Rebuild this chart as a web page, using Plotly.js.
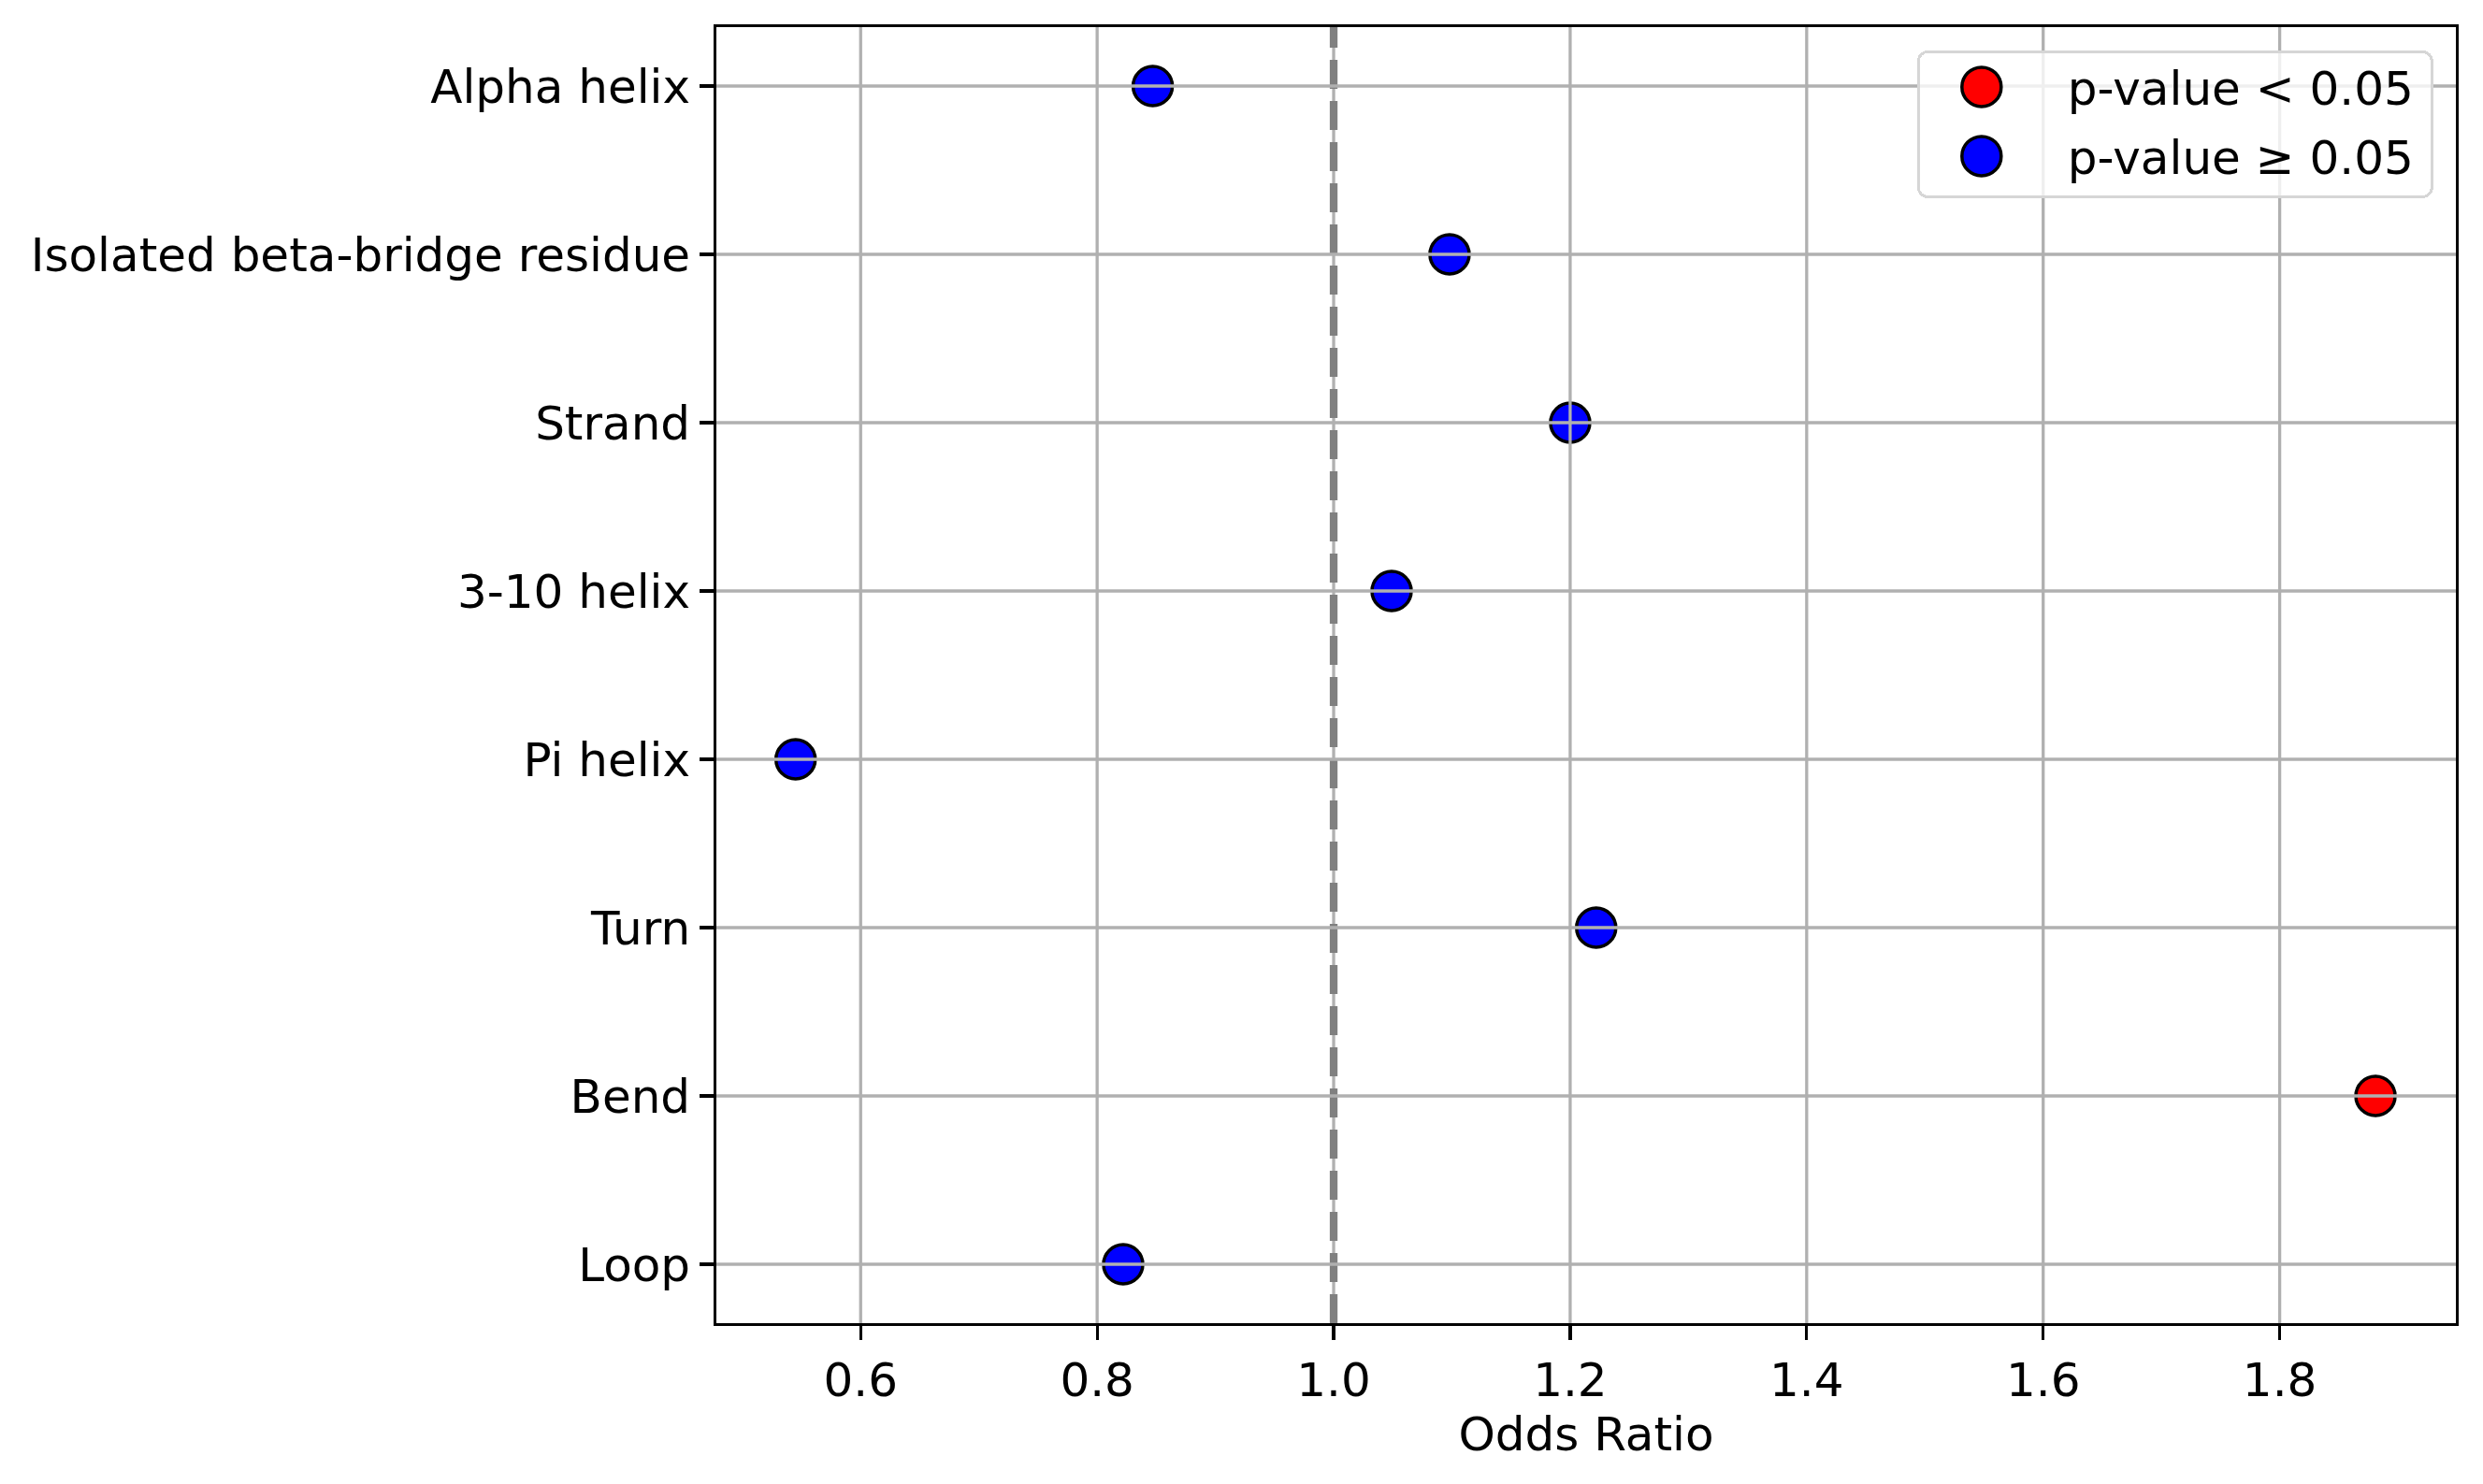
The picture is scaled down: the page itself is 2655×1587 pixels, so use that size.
<!DOCTYPE html>
<html>
<head>
<meta charset="utf-8">
<script src="https://cdn.plot.ly/plotly-3.0.1.min.js"></script>
<style>
  body { margin: 0; background: #fff; }
  #chart { width: 2655px; height: 1587px; }
</style>
</head>
<body>
<div id="chart"></div>
<script>
// categories, top to bottom
const categories = [
	"Alpha helix",
	"Isolated beta-bridge residue",
	"Strand",
	"3-10 helix",
	"Pi helix",
	"Turn",
	"Bend",
	"Loop",
];
const oddsRatios = [0.847, 1.098, 1.200, 1.049, 0.545, 1.222, 1.881, 0.822];
const significant = [false, false, false, false, false, false, true, false];
const xTicks = [0.6, 0.8, 1.0, 1.2, 1.4, 1.6, 1.8];
const xTickLabels = ["0.6", "0.8", "1.0", "1.2", "1.4", "1.6", "1.8"];

const font = "DejaVu Sans, sans-serif";
const fontSize = 50;
const gridColor = "#b0b0b0";

function pick(flag) {
	return {
		x: oddsRatios.filter((v, i) => significant[i] === flag),
		y: categories.filter((c, i) => significant[i] === flag),
	};
}

const sig = pick(true);
const nonsig = pick(false);

const data = [
	{
		x: sig.x,
		y: sig.y,
		type: "scatter",
		mode: "markers",
		name: "p-value < 0.05",
		legendgroup: "a",
		marker: { color: "#ff0000", size: 42, line: { color: "#000", width: 3.5 } },
	},
	{
		x: nonsig.x,
		y: nonsig.y,
		type: "scatter",
		mode: "markers",
		name: "p-value \u2265 0.05",
		legendgroup: "b",
		marker: { color: "#0000ff", size: 42, line: { color: "#000", width: 3.5 } },
	},
];

// vertical grid, then the reference line, then horizontal grid (all over the markers)
const shapes = [];
xTicks.forEach((t) => {
	shapes.push({
		type: "line", xref: "x", yref: "paper", x0: t, x1: t, y0: 0, y1: 1,
		layer: "above", line: { color: gridColor, width: 3.3 },
	});
});
shapes.push({
	type: "line", xref: "x", yref: "paper", x0: 1, x1: 1, y0: 0, y1: 1,
	layer: "above", line: { color: "#808080", width: 8.3, dash: "31px,13px" },
});
categories.forEach((c) => {
	shapes.push({
		type: "line", xref: "paper", yref: "y", x0: 0, x1: 1, y0: c, y1: c,
		layer: "above", line: { color: gridColor, width: 3.3 },
	});
});

const layout = {
	width: 2655,
	height: 1587,
	paper_bgcolor: "#fff",
	plot_bgcolor: "#fff",
	margin: { l: 766, r: 29, t: 29, b: 172 },
	font: { family: font, size: fontSize, color: "#000" },
	showlegend: true,
	legend: {
		x: 0.987,
		y: 0.982,
		xanchor: "right",
		yanchor: "top",
		bgcolor: "rgba(255,255,255,0.8)",
		bordercolor: "#d6d6d6",
		borderwidth: 3,
		tracegroupgap: 6,
		traceorder: "grouped",
		itemwidth: 146,
		font: { family: font, size: fontSize, color: "#000" },
	},
	xaxis: {
		range: [0.478, 1.949],
		tickvals: xTicks,
		ticktext: xTickLabels,
		showgrid: false,
		zeroline: false,
		ticks: "outside",
		ticklen: 14.6,
		tickwidth: 3.3,
		tickcolor: "#000",
		showline: true,
		linecolor: "#000",
		linewidth: 3.3,
		mirror: true,
		title: { text: "Odds Ratio", font: { family: font, size: fontSize }, standoff: 13 },
	},
	yaxis: {
		type: "category",
		categoryorder: "array",
		categoryarray: categories,
		range: [7.35, -0.35],
		showgrid: false,
		zeroline: false,
		ticks: "outside",
		ticklen: 14.6,
		tickwidth: 3.3,
		tickcolor: "#000",
		showline: true,
		linecolor: "#000",
		linewidth: 3.3,
		mirror: true,
	},
	shapes: shapes,
};

const config = { displayModeBar: false, staticPlot: true };

Plotly.newPlot("chart", data, layout, config).then(() => {
	// legend symbols are capped in size by plotly; enlarge them and move them in a bit
	document.querySelectorAll(".legend .legendpoints path.scatterpts").forEach((p) => {
		p.setAttribute("d", "M21,0A21,21 0 1,1 0,-21A21,21 0 0,1 21,0Z");
		p.setAttribute("transform", "translate(52,0)");
		p.style.strokeWidth = "3.5px";
	});
	document.querySelectorAll(".legend text.legendtext").forEach((t) => {
		const x = parseFloat(t.getAttribute("x") || 0);
		t.setAttribute("x", x - 12);
	});
	// rounded legend frame, a little wider like the original
	document.querySelectorAll(".legend rect.bg").forEach((r) => {
		const w = parseFloat(r.getAttribute("width"));
		const x = parseFloat(r.getAttribute("x") || 0);
		r.setAttribute("x", x - 14);
		r.setAttribute("width", w + 14);
		r.setAttribute("rx", 10);
		r.setAttribute("ry", 10);
	});
	document.querySelectorAll(".legend .scrollbox").forEach((g) => {
		g.setAttribute("transform", "translate(0,-3)");
	});
});
</script>
</body>
</html>
